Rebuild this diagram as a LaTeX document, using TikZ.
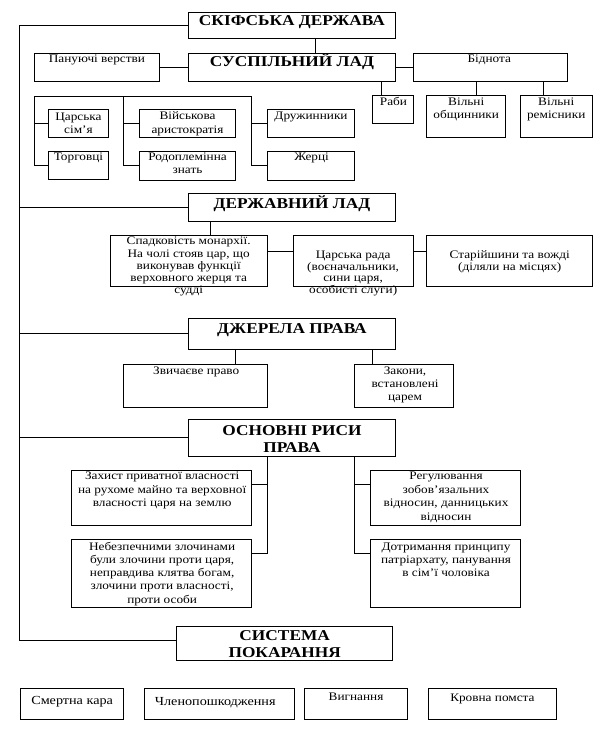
\documentclass[tikz,border=0pt]{standalone}
\usepackage{fontspec}
\setmainfont{Liberation Serif}[FakeStretch=1.154]
\usetikzlibrary{fit}
\newcommand\mybx[5]{\node[box, fit={(#2,#3) (#4,#5)}] (#1) {};}
\newcommand\fl[1][10.5pt]{\rule{0pt}{#1}}
\begin{document}
\begin{tikzpicture}[x=1.154pt,y=-1pt,
  box/.style={draw, line width=1pt, inner sep=0pt},
  ln/.style={line width=1pt},
  t/.style={inner sep=0pt, anchor=north, align=center, font=\fontsize{11.5}{#1}\selectfont, execute at begin node={\rule{0pt}{10.5pt}}},
  t/.default=12,
  big/.style={font=\fontsize{12.3}{14}\selectfont},
  h/.style={inner sep=0pt, anchor=north, align=center, font=\fontsize{15}{17}\selectfont\bfseries, execute at begin node={\rule{0pt}{13.5pt}}}]
\useasboundingbox (0,0) rectangle (520,729);
% boxes
\mybx{root}{163}{12}{343}{38}
\mybx{sus}{163}{53}{343}{81}
\mybx{pan}{30}{53}{138}{81}
\mybx{bid}{358}{53}{492}{81}
\mybx{rab}{323}{95.5}{358}{123}
\mybx{vob}{370}{95.5}{438}{137}
\mybx{vrem}{451}{95.5}{513}{137}
\mybx{car}{42}{109}{94}{137}
\mybx{torg}{42}{151}{94}{179}
\mybx{viys}{121}{109}{204}{137}
\mybx{rod}{121}{151}{204}{180}
\mybx{druz}{232}{109}{307}{137}
\mybx{zher}{232}{151}{307}{180}
\mybx{derzh}{163}{193}{343}{221}
\mybx{spad}{96}{235.5}{232}{286}
\mybx{rada}{254}{235.5}{358}{286}
\mybx{star}{370}{235.5}{513}{286}
\mybx{dzh}{163}{318}{343}{349}
\mybx{zvych}{107}{364}{232}{407}
\mybx{zak}{307}{364}{393}{407}
\mybx{osn}{163}{419}{343}{456}
\mybx{zakh}{62}{470}{218}{525}
\mybx{reg}{321}{470}{451}{525}
\mybx{neb}{62}{539}{218}{607}
\mybx{dotr}{321}{539}{451}{607}
\mybx{sys}{153}{626}{340}{660}
\mybx{b1}{18}{688}{107}{719}
\mybx{b2}{125}{688}{255}{719}
\mybx{b3}{264}{688}{353}{719}
\mybx{b4}{371}{688}{482}{719}
% headings
\node[h] (troot) at (253,11.5) {СКІФСЬКА ДЕРЖАВА};
\node[h] (tsus) at (253,53) {СУСПІЛЬНИЙ ЛАД};
\node[h] (tderzh) at (253,194.5) {ДЕРЖАВНИЙ ЛАД};
\node[h] (tdzh) at (253,319.5) {ДЖЕРЕЛА ПРАВА};
\node[h] (tosn) at (253,421.5) {\fl[13.5pt]ОСНОВНІ РИСИ\\ПРАВА};
\node[h] (tsys) at (246.7,626.5) {\fl[13.5pt]СИСТЕМА\\ПОКАРАННЯ};
% texts
\node[t] (tpan) at (84,51.8) {Пануючі верстви};
\node[t] (tbid) at (424,51.8) {Біднота};
\node[t] (trab) at (341,95) {Раби};
\node[t=12.6] (tvob) at (404,95.2) {\fl Вільні\\общинники};
\node[t=12.6] (tvrem) at (482,95.2) {\fl Вільні\\ремісники};
\node[t=13.3] (tcar) at (68,109.5) {\fl Царська\\сім'я};
\node[t=14] (tviys) at (162.5,109) {\fl Військова\\аристократія};
\node[t] (tdruz) at (269.5,109) {Дружинники};
\node[t] (ttorg) at (68,150.2) {Торговці};
\node[t=12.6] (trod) at (162.5,150.2) {\fl Родоплемінна\\знать};
\node[t] (tzher) at (270,150.2) {Жерці};
\node[t=12.3] (tspad) at (163.5,234) {\fl Спадковість монархії.\\На чолі стояв цар, що\\виконував функції\\верховного жерця та\\судді};
\node[t=11.7] (trada) at (306,247.8) {\fl Царська рада\\(воєначальники,\\сини царя,\\особисті слуги)};
\node[t=11.7] (tstar) at (441.7,248) {\fl Старійшини та вожді\\(діляли на місцях)};
\node[t] (tzvych) at (170,363.5) {Звичаєве право};
\node[t=13.3] (tzak) at (351,363.5) {\fl Закони,\\встановлені\\царем};
\node[t=13.7] (tzakh) at (140.5,468.8) {\fl Захист приватної власності\\на рухоме майно та верховної\\власності царя на землю};
\node[t=13.5] (treg) at (386.5,468.8) {\fl Регулювання\\зобов'язальних\\відносин, данницьких\\відносин};
\node[t=13.2] (tneb) at (140.5,539.5) {\fl Небезпечними злочинами\\були злочини проти царя,\\неправдива клятва богам,\\злочини проти власності,\\проти особи};
\node[t=13.2] (tdotr) at (386.5,539.5) {\fl Дотримання принципу\\патріархату, панування\\в сім'ї чоловіка};
\node[t, big] (tb1) at (62.5,693.5) {Смертна кара};
\node[t, big] (tb2) at (186.5,694.5) {Членопошкодження};
\node[t] (tb3) at (308.5,690.2) {Вигнання};
\node[t] (tb4) at (426.7,691.2) {Кровна помста};
% connectors
\coordinate (spb) at (17,640);
\draw[ln] (root.west) -| (spb) -- (sys.west |- spb);
\draw[ln] (derzh.west) -- (derzh.west -| spb);
\draw[ln] (dzh.west) -- (dzh.west -| spb);
\draw[ln] (osn.west) -- (osn.west -| spb);
\draw[ln] ([xshift=23.1pt]root.south) -- ([xshift=23.1pt]sus.north);
\draw[ln] (pan.east) -- (sus.west);
\draw[ln] (sus.east) -- (bid.west);
\draw[ln] ([xshift=-11.3pt]rab.north) -- ([xshift=-11.3pt]rab.north |- sus.south);
\draw[ln] ([xshift=10.5pt]vob.north) -- ([xshift=10.5pt]vob.north |- bid.south);
\draw[ln] ([xshift=-12.7pt]vrem.north) -- ([xshift=-12.7pt]vrem.north |- bid.south);
\coordinate (bl) at (30,96);
\coordinate (bm) at (107,96);
\coordinate (br) at (218,96);
\draw[ln] (bl) -- (br);
\draw[ln] (bl) |- (torg.west);
\draw[ln] (car.west) -- (car.west -| bl);
\draw[ln] (bm) |- (rod.west);
\draw[ln] (viys.west) -- (viys.west -| bm);
\draw[ln] (br) |- (zher.west);
\draw[ln] (druz.west) -- (druz.west -| br);
\draw[ln] ([xshift=20.8pt]spad.north) -- ([xshift=20.8pt]spad.north |- derzh.south);
\draw[ln] ([yshift=9pt]spad.east) -- ([yshift=9pt]spad.east -| rada.west);
\draw[ln] ([yshift=9pt]rada.east) -- ([yshift=9pt]rada.east -| star.west);
\draw[ln] ([xshift=39.8pt]zvych.north) -- ([xshift=39.8pt]zvych.north |- dzh.south);
\draw[ln] ([xshift=-31.2pt]zak.north) -- ([xshift=-31.2pt]zak.north |- dzh.south);
\coordinate (ola) at (232,553);
\coordinate (ora) at (307,553);
\draw[ln] (osn.south -| ola) -- (ola) -- (ola -| neb.east);
\draw[ln] ([yshift=13.5pt]zakh.east) -- ([yshift=13.5pt]zakh.east -| ola);
\draw[ln] (osn.south -| ora) -- (ora) -- (ora -| dotr.west);
\draw[ln] ([yshift=13.5pt]reg.west) -- ([yshift=13.5pt]reg.west -| ora);
\end{tikzpicture}
\end{document}
